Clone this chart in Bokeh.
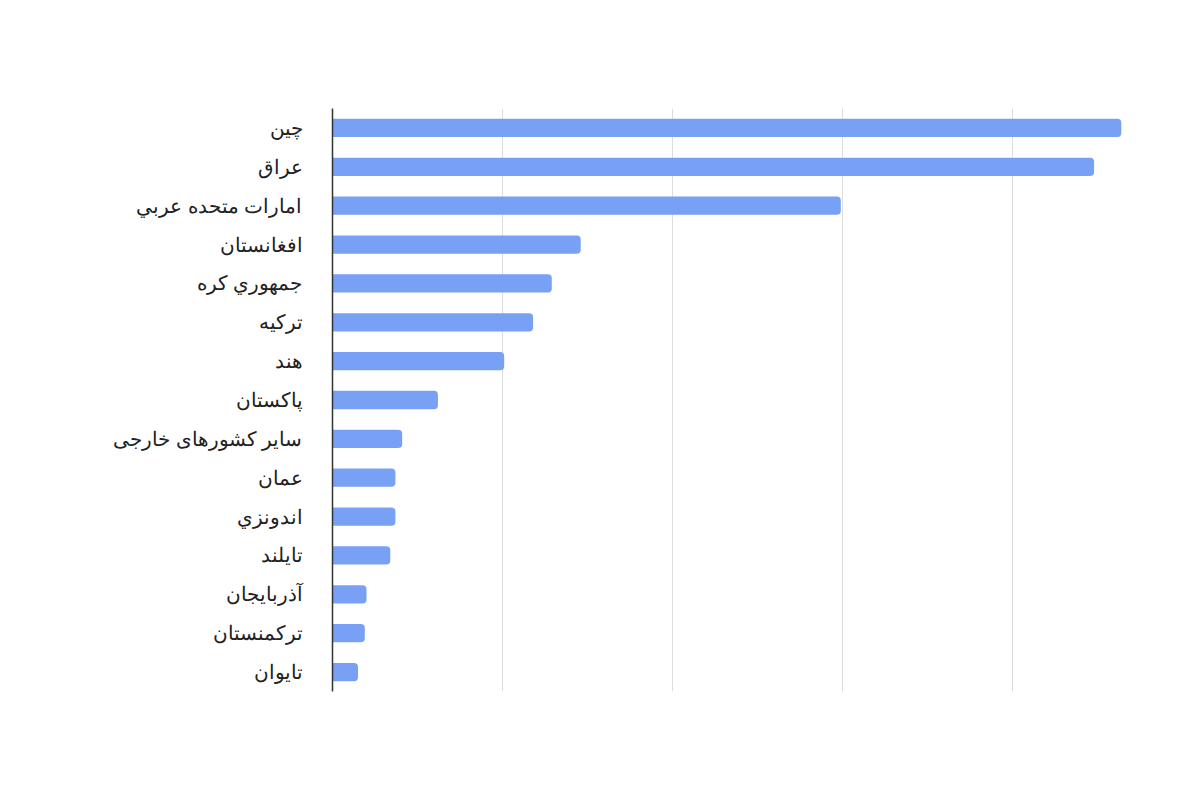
from bokeh.plotting import figure
from bokeh.models import FactorRange
from bokeh.embed import file_html
from bokeh.resources import INLINE

countries = ["چین", "عراق", "امارات متحده عربي", "افغانستان", "جمهوري کره", "ترکیه", "هند",
             "پاکستان", "ساير كشورهاى خارجى", "عمان", "اندونزي", "تايلند", "آذربايجان",
             "ترکمنستان", "تايوان"]
values = [46.4, 44.8, 29.9, 14.6, 12.9, 11.8, 10.1, 6.2, 4.1, 3.7, 3.7, 3.4, 2.0, 1.9, 1.5]
x_ticks = [0, 10, 20, 30, 40]

factors = list(reversed(countries))
p = figure(width=1184, height=784, y_range=FactorRange(*factors, range_padding=0),
           x_range=(0, 47), output_backend="svg", toolbar_location=None,
           min_border_left=332, min_border_right=53, min_border_top=108, min_border_bottom=93)
p.outline_line_color = None
p.hbar(y=countries, right=values, left=0, height=0.47, color="#78a1f6", line_color=None,
       border_radius=(0, 4, 4, 0))

p.xaxis.visible = False
p.xaxis.ticker = x_ticks
p.xgrid.ticker = x_ticks
p.xgrid.grid_line_color = "#dddddd"
p.xgrid.grid_line_width = 1
p.ygrid.grid_line_color = None

ya = p.yaxis[0]
ya.axis_line_color = "#333333"
ya.axis_line_width = 1.5
ya.major_tick_line_color = None
ya.minor_tick_line_color = None
ya.major_label_text_font = "Arial"
ya.major_label_text_font_size = "20px"
ya.major_label_text_color = "#222222"
ya.major_label_standoff = 24

open("out.html", "w").write(file_html(p, INLINE))
